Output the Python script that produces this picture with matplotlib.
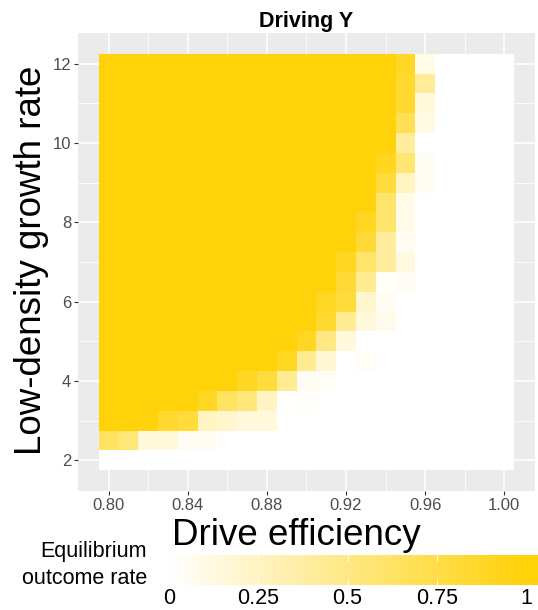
import numpy as np
import matplotlib
matplotlib.use("Agg")
import matplotlib.pyplot as plt
from matplotlib.colors import LinearSegmentedColormap

plt.rcParams["font.family"] = ["Liberation Sans", "DejaVu Sans"]

# Grid axes
drive_efficiency = [0.80, 0.81, 0.82, 0.83, 0.84, 0.85, 0.86, 0.87, 0.88, 0.89, 0.90,
                    0.91, 0.92, 0.93, 0.94, 0.95, 0.96, 0.97, 0.98, 0.99, 1.00]
growth_rate = [12.0, 11.5, 11.0, 10.5, 10.0, 9.5, 9.0, 8.5, 8.0, 7.5, 7.0,
               6.5, 6.0, 5.5, 5.0, 4.5, 4.0, 3.5, 3.0, 2.5, 2.0]

# Equilibrium outcome rate, one row per growth rate (top row = 12)
outcome_rate = [
    [1, 1, 1, 1, 1, 1, 1, 1, 1, 1, 1, 1, 1, 1, 1, 0.88, 0.10, 0, 0, 0, 0],
    [1, 1, 1, 1, 1, 1, 1, 1, 1, 1, 1, 1, 1, 1, 1, 0.85, 0.42, 0, 0, 0, 0],
    [1, 1, 1, 1, 1, 1, 1, 1, 1, 1, 1, 1, 1, 1, 1, 0.85, 0.15, 0, 0, 0, 0],
    [1, 1, 1, 1, 1, 1, 1, 1, 1, 1, 1, 1, 1, 1, 1, 0.70, 0.12, 0, 0, 0, 0],
    [1, 1, 1, 1, 1, 1, 1, 1, 1, 1, 1, 1, 1, 1, 1, 0.40, 0, 0, 0, 0, 0],
    [1, 1, 1, 1, 1, 1, 1, 1, 1, 1, 1, 1, 1, 1, 0.92, 0.58, 0.05, 0, 0, 0, 0],
    [1, 1, 1, 1, 1, 1, 1, 1, 1, 1, 1, 1, 1, 1, 0.80, 0.25, 0.05, 0, 0, 0, 0],
    [1, 1, 1, 1, 1, 1, 1, 1, 1, 1, 1, 1, 1, 1, 0.60, 0.10, 0, 0, 0, 0, 0],
    [1, 1, 1, 1, 1, 1, 1, 1, 1, 1, 1, 1, 1, 0.90, 0.60, 0.10, 0, 0, 0, 0, 0],
    [1, 1, 1, 1, 1, 1, 1, 1, 1, 1, 1, 1, 1, 0.82, 0.40, 0.05, 0, 0, 0, 0, 0],
    [1, 1, 1, 1, 1, 1, 1, 1, 1, 1, 1, 1, 0.90, 0.60, 0.40, 0.13, 0, 0, 0, 0, 0],
    [1, 1, 1, 1, 1, 1, 1, 1, 1, 1, 1, 1, 0.82, 0.45, 0.03, 0.05, 0, 0, 0, 0, 0],
    [1, 1, 1, 1, 1, 1, 1, 1, 1, 1, 1, 0.90, 0.80, 0.20, 0.05, 0, 0, 0, 0, 0, 0],
    [1, 1, 1, 1, 1, 1, 1, 1, 1, 1, 1, 0.85, 0.45, 0.15, 0.08, 0, 0, 0, 0, 0, 0],
    [1, 1, 1, 1, 1, 1, 1, 1, 1, 1, 0.90, 0.50, 0.15, 0, 0, 0, 0, 0, 0, 0, 0],
    [1, 1, 1, 1, 1, 1, 1, 1, 1, 0.90, 0.45, 0.18, 0, 0.04, 0, 0, 0, 0, 0, 0, 0],
    [1, 1, 1, 1, 1, 1, 1, 0.90, 0.80, 0.45, 0.05, 0.04, 0, 0, 0, 0, 0, 0, 0, 0, 0],
    [1, 1, 1, 1, 1, 0.90, 0.65, 0.55, 0.25, 0, 0.03, 0, 0, 0, 0, 0, 0, 0, 0, 0, 0],
    [1, 1, 1, 0.85, 0.80, 0.25, 0.20, 0.15, 0.15, 0, 0, 0, 0, 0, 0, 0, 0, 0, 0, 0, 0],
    [0.65, 0.55, 0.15, 0.15, 0.05, 0.05, 0, 0, 0, 0, 0, 0, 0, 0, 0, 0, 0, 0, 0, 0, 0],
    [0, 0, 0, 0, 0, 0, 0, 0, 0, 0, 0, 0, 0, 0, 0, 0, 0, 0, 0, 0, 0],
]

x_ticks = [0.80, 0.84, 0.88, 0.92, 0.96, 1.00]
y_ticks = [2, 4, 6, 8, 10, 12]
legend_ticks = [0, 0.25, 0.5, 0.75, 1]
legend_labels = ["0", "0.25", "0.5", "0.75", "1"]

GOLD = "#FFD20A"
cmap = LinearSegmentedColormap.from_list("white_gold", ["#FFFFFF", GOLD])

W, H = 538, 610
fig = plt.figure(figsize=(W / 100, H / 100), dpi=100)

def fx(px):
    return px / W

def fy(py):
    return 1 - py / H

# Main panel
ax = fig.add_axes([fx(78), fy(491), fx(535) - fx(78), fy(33) - fy(491)])
ax.set_facecolor("#EBEBEB")
ax.pcolormesh(drive_efficiency, growth_rate, np.array(outcome_rate, dtype=float),
              cmap=cmap, vmin=0, vmax=1, shading="nearest", zorder=2)
ax.set_xlim(0.7845, 1.0155)
ax.set_ylim(1.225, 12.775)
ax.set_xticks(x_ticks)
ax.set_xticklabels([f"{v:.2f}" for v in x_ticks])
ax.set_yticks(y_ticks)
ax.set_yticklabels([str(v) for v in y_ticks])
ax.set_xticks([0.82, 0.86, 0.90, 0.94, 0.98], minor=True)
ax.set_yticks([3, 5, 7, 9, 11], minor=True)
ax.grid(which="major", color="white", linewidth=1.1, zorder=1)
ax.grid(which="minor", color="white", linewidth=0.55, zorder=1)
ax.set_axisbelow(True)
for s in ax.spines.values():
    s.set_visible(False)
ax.tick_params(which="major", length=3, width=0.8, color="#333333",
               labelcolor="#4D4D4D", labelsize=12, pad=2)
ax.tick_params(which="minor", length=0)

# Titles
fig.text(fx(306), fy(27), "Driving Y", ha="center", va="baseline",
         fontsize=15.5, fontweight="bold")
fig.text(fx(32), fy(260), "Low-density growth rate", rotation=90,
         ha="center", va="center", fontsize=26.5)
fig.text(fx(296), fy(545), "Drive efficiency", ha="center", va="baseline",
         fontsize=26.5)

# Colour legend
fig.text(fx(147), fy(557), "Equilibrium", ha="right", va="baseline", fontsize=15.5)
fig.text(fx(147), fy(584), "outcome rate", ha="right", va="baseline", fontsize=15.5)

def leg_val(px):
    return (px - 169) / 357.0

cax = fig.add_axes([fx(153), fy(585), fx(538) - fx(153), fy(555) - fy(585)])
lo, hi = leg_val(153), leg_val(538)
grad = np.clip(np.linspace(lo, hi, 400), 0, 1)[None, :]
cax.imshow(grad, cmap=cmap, vmin=0, vmax=1, aspect="auto",
           extent=(lo, hi, 0, 1), interpolation="bilinear")
cax.set_xlim(lo, hi)
cax.set_ylim(0, 1)
cax.set_yticks([])
cax.set_xticks(legend_ticks)
cax.set_xticklabels(legend_labels)
cax.tick_params(axis="x", length=0, labelsize=15.5, labelcolor="black", pad=2)
for v in legend_ticks[1:-1]:
    cax.plot([v, v], [0, 0.2], color="white", lw=0.8, alpha=0.8)
    cax.plot([v, v], [0.8, 1], color="white", lw=0.8, alpha=0.8)
for s in cax.spines.values():
    s.set_visible(False)

fig.savefig("out.png", dpi=100)
